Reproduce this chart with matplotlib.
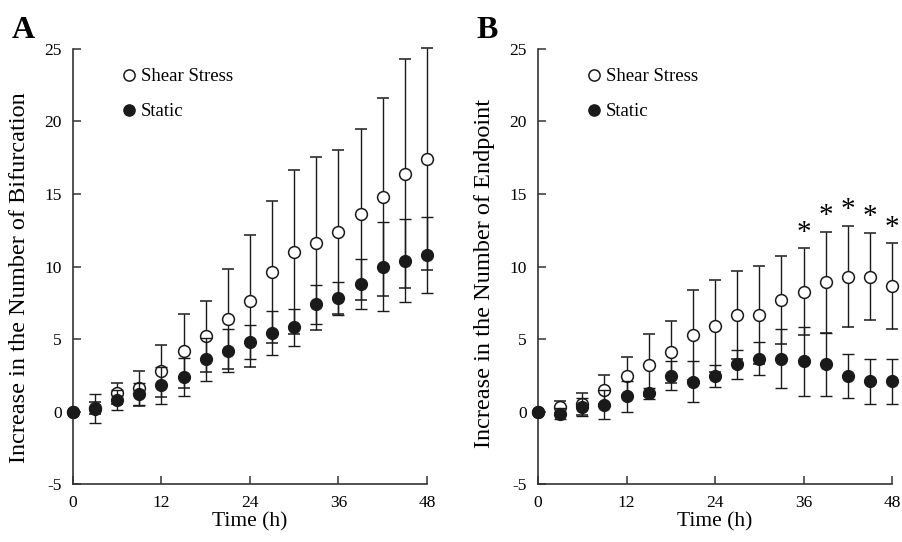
import matplotlib
matplotlib.use('Agg')
import matplotlib.pyplot as plt

plt.rcParams['font.family'] = ['Liberation Serif', 'DejaVu Serif']
plt.rcParams['axes.unicode_minus'] = False

time_h = [0, 3, 6, 9, 12, 15, 18, 21, 24, 27, 30, 33, 36, 39, 42, 45, 48]

# panel A - bifurcation
bif_shear = [0, 0.25, 1.25, 1.6, 2.8, 4.2, 5.2, 6.4, 7.6, 9.6, 11.0, 11.6, 12.4, 13.6, 14.8, 16.4, 17.4]
bif_shear_err = [0, 0.4, 0.7, 1.2, 1.8, 2.55, 2.45, 3.45, 4.55, 4.9, 5.65, 5.95, 5.65, 5.9, 6.85, 7.9, 7.65]
bif_static = [0, 0.2, 0.8, 1.2, 1.8, 2.4, 3.6, 4.2, 4.8, 5.4, 5.8, 7.4, 7.8, 8.8, 10.0, 10.4, 10.8]
bif_static_err = [0, 1.0, 0.7, 0.75, 1.3, 1.3, 1.5, 1.5, 1.15, 1.5, 1.3, 1.35, 1.15, 1.7, 3.05, 2.85, 2.63]

# panel B - endpoint
end_shear = [0, 0.3, 0.5, 1.5, 2.45, 3.2, 4.1, 5.25, 5.9, 6.65, 6.65, 7.7, 8.25, 8.9, 9.3, 9.3, 8.65]
end_shear_err = [0, 0.4, 0.75, 1.0, 1.3, 2.15, 2.15, 3.1, 3.15, 3.05, 3.4, 3.05, 3.0, 3.5, 3.5, 3.0, 2.95]
end_static = [0, -0.15, 0.3, 0.45, 1.05, 1.25, 2.45, 2.05, 2.45, 3.25, 3.65, 3.65, 3.45, 3.25, 2.45, 2.1, 2.1]
end_static_err = [0, 0.4, 0.6, 1.0, 1.05, 0.37, 1.0, 1.42, 0.78, 1.0, 1.15, 2.05, 2.35, 2.15, 1.5, 1.55, 1.55]
signif_idx = [12, 13, 14, 15, 16]

fig = plt.figure(figsize=(9.02, 5.42), dpi=100)
ax_a = fig.add_axes([0.0809, 0.107, 0.3925, 0.8026])
ax_b = fig.add_axes([0.5965, 0.107, 0.3925, 0.8026])

ink = '#1a1a1a'


def draw_panel(ax, shear, shear_err, static, static_err, ylabel, label_y):
    ax.errorbar(time_h, shear, yerr=shear_err, fmt='o', color=ink, mfc='white',
                mec=ink, ms=8.5, mew=1.1, elinewidth=1.0, capsize=4.5,
                capthick=1.0, label='Shear Stress', clip_on=False, zorder=3)
    ax.errorbar(time_h, static, yerr=static_err, fmt='o', color=ink, mfc=ink,
                mec=ink, ms=8.5, elinewidth=1.0, capsize=4.5, capthick=1.0,
                label='Static', clip_on=False, zorder=4)
    ax.set_xlim(0, 48)
    ax.set_ylim(-5, 25)
    ax.set_xticks([0, 12, 24, 36, 48])
    ax.set_yticks(range(-5, 26, 5))
    for s in ['top', 'right']:
        ax.spines[s].set_visible(False)
    for s in ['left', 'bottom']:
        ax.spines[s].set_color('#333333')
        ax.spines[s].set_linewidth(1.2)
    ax.tick_params(direction='in', length=6, width=1.1, color='#333333',
                   labelsize=12.5, pad=8)
    ax.set_xlabel('Time (h)', fontsize=15.5, labelpad=1)
    ax.set_ylabel(ylabel, fontsize=17.5)
    ax.yaxis.set_label_coords(-0.122, label_y)
    handles, labels = ax.get_legend_handles_labels()
    hs = [h[0] for h in handles]
    ax.legend(hs, labels, loc='upper left', bbox_to_anchor=(0.085, 0.995),
              frameon=False, fontsize=13.5, handletextpad=0.1,
              labelspacing=0.95, handlelength=1.0, markerscale=0.95)


draw_panel(ax_a, bif_shear, bif_shear_err, bif_static, bif_static_err,
           'Increase in the Number of Bifurcation', 0.474)
draw_panel(ax_b, end_shear, end_shear_err, end_static, end_static_err,
           'Increase in the Number of Endpoint', 0.483)

for i in signif_idx:
    ax_b.annotate('*', (time_h[i], end_shear[i] + end_shear_err[i]),
                  xytext=(0, 2), textcoords='offset points', ha='center',
                  va='bottom', fontsize=21)

fig.text(0.013, 0.93, 'A', fontsize=23, fontweight='bold')
fig.text(0.528, 0.93, 'B', fontsize=23, fontweight='bold')

fig.savefig('out.png', dpi=100)
